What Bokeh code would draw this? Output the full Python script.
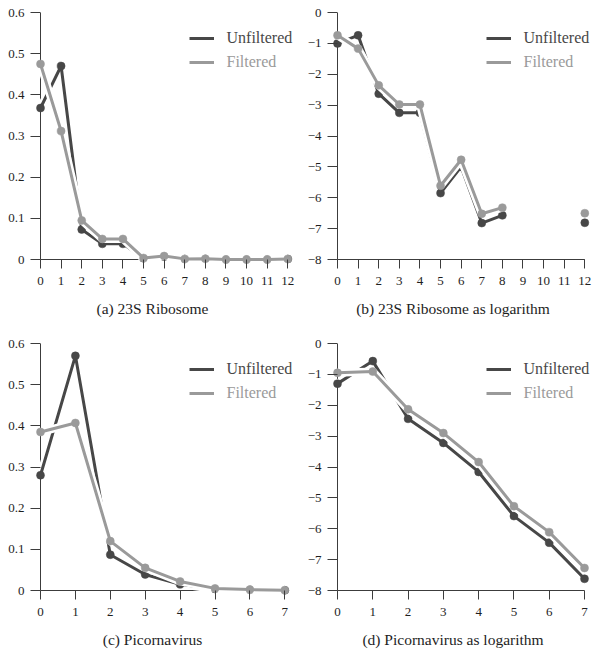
import math
from bokeh.plotting import figure
from bokeh.layouts import column, row
from bokeh.models import Range1d, FixedTicker, Legend, LegendItem
from bokeh.embed import file_html
from bokeh.resources import INLINE

nan = float("nan")

# ---------------- data ----------------
ribo_x = [0, 1, 2, 3, 4, 5, 6, 7, 8, 9, 10, 11, 12]
ribo_unfiltered = [0.368, 0.470, 0.073, 0.038, 0.038, 0.003, 0.0067, 0.0011, 0.0014, 0.0, 0.0, 0.0, 0.0011]
ribo_filtered = [0.475, 0.312, 0.095, 0.050, 0.050, 0.0037, 0.0085, 0.0015, 0.0018, 0.0, 0.0, 0.0, 0.0015]
ribo_unfiltered_log = [-1.00, -0.74, -2.63, -3.25, -3.25, -5.85, -5.00, -6.82, -6.57, nan, nan, nan, -6.81]
ribo_filtered_log = [-0.74, -1.17, -2.36, -2.98, -2.98, -5.61, -4.77, -6.52, -6.32, nan, nan, nan, -6.50]

pico_x = [0, 1, 2, 3, 4, 5, 6, 7]
pico_unfiltered = [0.280, 0.570, 0.087, 0.039, 0.015, 0.0037, 0.0016, 0.0005]
pico_filtered = [0.385, 0.407, 0.120, 0.055, 0.022, 0.0051, 0.0022, 0.0007]
pico_unfiltered_log = [-1.30, -0.57, -2.44, -3.22, -4.16, -5.59, -6.45, -7.62]
pico_filtered_log = [-0.95, -0.91, -2.13, -2.90, -3.84, -5.27, -6.11, -7.27]

lin_ticks = [0, 0.1, 0.2, 0.3, 0.4, 0.5, 0.6]
log_ticks = [-8, -7, -6, -5, -4, -3, -2, -1, 0]
series_names = ["Unfiltered", "Filtered"]
captions = ["(a) 23S Ribosome", "(b) 23S Ribosome as logarithm",
            "(c) Picornavirus", "(d) Picornavirus as logarithm"]

# ---------------- style ----------------
DARK = "#474747"
LIGHT = "#9a9a9a"
AXIS = "#3c3c3c"
TEXT = "#1e1e1e"
FONT = "Liberation Serif"

FRAME_L = 35      # frame left inside figure
FRAME_R = 293     # frame right inside figure
FRAME_T = 12      # frame top inside figure
FRAME_H = 252
PAD = 5           # gap between frame edge and the data origin


def mapped_range(d0, d1, p0, p1, size):
    s = (d1 - d0) / (p1 - p0)
    return Range1d(d0 - p0 * s, d0 + (size - p0) * s)


def panel(xs, unf, fil, yticks, fig_w, fig_h, x1px):
    xmax = xs[-1]
    ylo, yhi = yticks[0], yticks[-1]
    frame_w = FRAME_R - FRAME_L
    xr = mapped_range(0, xmax, PAD, x1px - FRAME_L, frame_w)
    yr = mapped_range(ylo, yhi, PAD, FRAME_H, FRAME_H)
    p = figure(width=fig_w, height=fig_h, x_range=xr, y_range=yr,
               output_backend="svg", toolbar_location=None,
               min_border_left=FRAME_L, min_border_right=fig_w - FRAME_R,
               min_border_top=FRAME_T, min_border_bottom=fig_h - FRAME_T - FRAME_H)
    p.grid.visible = False
    p.outline_line_color = None
    p.background_fill_color = "white"
    p.border_fill_color = "white"

    # axis lines through the data origin
    p.segment(x0=[xs[0], xs[0]], y0=[ylo, ylo], x1=[xs[0], xmax], y1=[yhi, ylo],
              line_color=AXIS, line_width=1, level="underlay")

    for ax in (p.xaxis[0], p.yaxis[0]):
        ax.axis_line_color = None
        ax.major_tick_line_color = AXIS
        ax.major_tick_in = PAD
        ax.minor_tick_in = 0
        ax.minor_tick_out = 0
        ax.major_label_text_font = FONT
        ax.major_label_text_font_size = "13px"
        ax.major_label_text_color = TEXT
    p.xaxis.ticker = FixedTicker(ticks=list(xs))
    p.xaxis.major_tick_out = 4
    p.xaxis.major_label_standoff = 8
    p.yaxis.ticker = FixedTicker(ticks=list(yticks))
    p.yaxis.major_tick_out = 5
    p.yaxis.major_label_standoff = 6
    p.yaxis.major_label_overrides = {0: "0"}

    for ys, color, name, ly in ((unf, DARK, series_names[0], FRAME_H - 36.3),
                                (fil, LIGHT, series_names[1], FRAME_H - 59.7)):
        p.line(xs, ys, line_color="white", line_width=8)
        ln = p.line(xs, ys, line_color=color, line_width=3)
        p.scatter(xs, ys, size=8, fill_color=color, line_color=color, line_width=0.5)
        lg = Legend(items=[LegendItem(label=name, renderers=[ln])],
                    location=(153.5, ly), margin=0, padding=0,
                    border_line_color=None, background_fill_alpha=0,
                    glyph_width=25, glyph_height=20, label_height=20,
                    label_standoff=13, label_text_font=FONT,
                    label_text_font_size="16px", label_text_color=color)
        p.add_layout(lg)
    return p


def caption_fig(text, fig_w, fig_h, center_x):
    half = min(center_x, fig_w - center_x) - 2
    left = int(round(center_x - half))
    right = fig_w - left - int(round(2 * half))
    c = figure(width=fig_w, height=fig_h, title=text, title_location="above",
               output_backend="svg", toolbar_location=None,
               min_border_left=left, min_border_right=right,
               min_border_top=30, min_border_bottom=0)
    c.axis.visible = False
    c.grid.visible = False
    c.outline_line_color = None
    c.title.text_font = FONT
    c.title.text_font_size = "15.5px"
    c.title.text_font_style = "normal"
    c.title.text_color = TEXT
    c.title.align = "center"
    c.title.vertical_align = "middle"
    return c


W1, W2 = 297, 300
H1 = 292
CH1, CH2 = 39, 31

pa = panel(ribo_x, ribo_unfiltered, ribo_filtered, lin_ticks, W1, H1, 287.3)
pb = panel(ribo_x, ribo_unfiltered_log, ribo_filtered_log, log_ticks, W2, H1, 287.3)
pc = panel(pico_x, pico_unfiltered, pico_filtered, lin_ticks, W1, H1, 284.3)
pd = panel(pico_x, pico_unfiltered_log, pico_filtered_log, log_ticks, W2, H1, 287.0)

ca = caption_fig(captions[0], W1, CH1, 152)
cb = caption_fig(captions[1], W2, CH1, 155.5)
cc = caption_fig(captions[2], W1, CH2, 152)
cd = caption_fig(captions[3], W2, CH2, 155.5)

layout = column(row(pa, pb), row(ca, cb), row(pc, pd), row(cc, cd))

with open("out.html", "w") as f:
    f.write(file_html(layout, INLINE))
